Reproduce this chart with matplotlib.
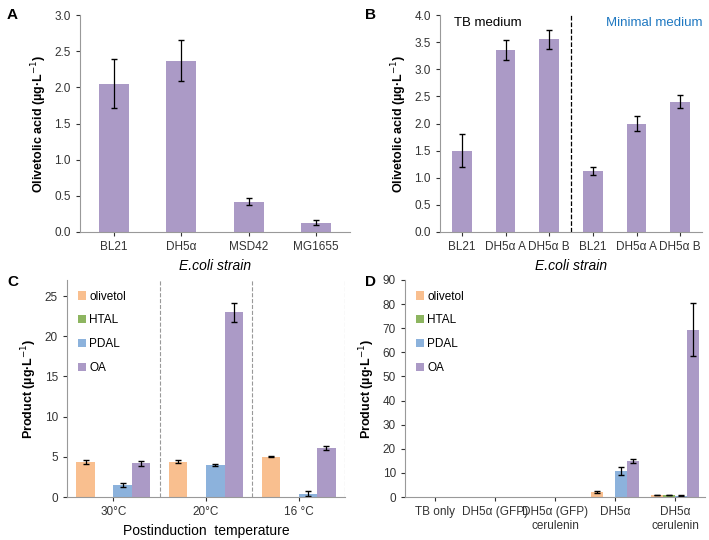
import numpy as np
import matplotlib.pyplot as plt

purple = '#ab9ac6'
orange = '#f9bf8f'
green = '#8db560'
blue = '#8cb2dc'
tblue = '#1f78c1'

a_labels = ["BL21", "DH5α", "MSD42", "MG1655"]
a_vals = [2.05, 2.37, 0.42, 0.13]
a_err = [0.34, 0.28, 0.05, 0.03]

b_labels = ["BL21", "DH5α A", "DH5α B", "BL21", "DH5α A", "DH5α B"]
b_vals = [1.5, 3.35, 3.55, 1.12, 2.0, 2.4]
b_err = [0.3, 0.18, 0.18, 0.07, 0.14, 0.12]

c_groups = ["30°C", "20°C", "16 °C"]
c_olivetol = [4.3, 4.4, 5.0]
c_olivetol_err = [0.25, 0.15, 0.05]
c_htal = [0.0, 0.0, 0.0]
c_pdal = [1.5, 4.0, 0.4]
c_pdal_err = [0.2, 0.15, 0.3]
c_oa = [4.2, 23.0, 6.1]
c_oa_err = [0.3, 1.2, 0.2]

d_groups = ["TB only", "DH5α (GFP)", "DH5α (GFP)\ncerulenin", "DH5α", "DH5α\ncerulenin"]
d_olivetol = [0.0, 0.0, 0.1, 2.1, 0.8]
d_olivetol_err = [np.nan, np.nan, np.nan, 0.3, 0.1]
d_htal = [0.0, 0.05, 0.1, 0.1, 0.8]
d_htal_err = [np.nan, np.nan, np.nan, np.nan, 0.1]
d_pdal = [0.0, 0.05, 0.1, 10.8, 0.6]
d_pdal_err = [np.nan, np.nan, np.nan, 1.5, 0.1]
d_oa = [0.0, 0.05, 0.1, 14.8, 69.3]
d_oa_err = [np.nan, np.nan, np.nan, 0.8, 11.0]

plt.rcParams['font.family'] = ['Liberation Sans', 'DejaVu Sans']
plt.rcParams['font.size'] = 9

fig = plt.figure(figsize=(7.09, 5.40), dpi=100)

def style(ax):
    for s in ['top', 'right']:
        ax.spines[s].set_visible(False)
    ax.spines['left'].set_color('#999999')
    ax.spines['bottom'].set_color('#999999')
    ax.tick_params(colors='#333333', length=3, labelsize=8.5)

ekw = dict(capsize=2.5, elinewidth=0.9, ecolor='k')

# A
ax = fig.add_axes([80/709, 1 - 232/540, 270/709, 217/540])
x = np.arange(len(a_vals))
ax.bar(x, a_vals, 0.45, yerr=a_err, color=purple, error_kw=ekw)
ax.set_xticks(x, a_labels)
ax.set_xlim(-0.5, 3.5)
ax.set_ylim(0, 3.0)
ax.set_yticks(np.arange(0, 3.01, 0.5))
ax.yaxis.set_major_formatter('{x:.1f}')
ax.set_ylabel("Olivetolic acid (µg·L$^{-1}$)", fontweight='bold')
ax.set_xlabel("E.coli strain", style='italic', fontsize=10)
style(ax)
fig.text(0.01, 0.985, "A", fontweight='bold', fontsize=11, va='top')

# B
ax = fig.add_axes([440/709, 1 - 232/540, 262/709, 217/540])
x = np.arange(len(b_vals))
ax.bar(x, b_vals, 0.45, yerr=b_err, color=purple, error_kw=ekw)
ax.set_xticks(x, b_labels)
for i, t in enumerate(ax.get_xticklabels()):
    t.set_fontsize(8)
    if i >= 3:
        t.set_color(tblue)
ax.set_xlim(-0.5, 5.5)
ax.set_ylim(0, 4.0)
ax.set_yticks(np.arange(0, 4.01, 0.5))
ax.yaxis.set_major_formatter('{x:.1f}')
ax.axvline(2.5, color='k', ls='--', lw=0.9)
ax.text(0.6, 3.85, "TB medium", ha='center', va='center', fontsize=9.5)
ax.text(4.4, 3.85, "Minimal medium", ha='center', va='center', fontsize=9.5, color=tblue)
ax.set_ylabel("Olivetolic acid (µg·L$^{-1}$)", fontweight='bold')
ax.set_xlabel("E.coli strain", style='italic', fontsize=10)
style(ax)
fig.text(0.515, 0.985, "B", fontweight='bold', fontsize=11, va='top')

# C
ax = fig.add_axes([67/709, 1 - 497/540, 278/709, 217/540])
x = np.arange(len(c_groups))
w = 0.2
ax.bar(x - 1.5*w, c_olivetol, w, yerr=c_olivetol_err, color=orange, label='olivetol', error_kw=ekw)
ax.bar(x - 0.5*w, c_htal, w, color=green, label='HTAL')
ax.bar(x + 0.5*w, c_pdal, w, yerr=c_pdal_err, color=blue, label='PDAL', error_kw=ekw)
ax.bar(x + 1.5*w, c_oa, w, yerr=c_oa_err, color=purple, label='OA', error_kw=ekw)
for b in [0.5, 1.5, 2.5]:
    ax.axvline(b, color='#999999', ls='--', lw=0.8)
ax.set_xticks(x, c_groups)
ax.set_xlim(-0.5, 2.5)
ax.set_ylim(0, 27)
ax.set_yticks(np.arange(0, 26, 5))
ax.set_ylabel("Product (µg·L$^{-1}$)", fontweight='bold')
ax.set_xlabel("Postinduction  temperature", fontsize=10)
ax.legend(loc='upper left', frameon=False, handlelength=0.7, handletextpad=0.3,
          labelspacing=1.0, fontsize=8.5)
style(ax)
fig.text(0.01, 0.49, "C", fontweight='bold', fontsize=11, va='top')

# D
ax = fig.add_axes([405/709, 1 - 497/540, 300/709, 217/540])
x = np.arange(len(d_groups))
w = 0.2
ax.bar(x - 1.5*w, d_olivetol, w, yerr=d_olivetol_err, color=orange, label='olivetol', error_kw=ekw)
ax.bar(x - 0.5*w, d_htal, w, yerr=d_htal_err, color=green, label='HTAL', error_kw=ekw)
ax.bar(x + 0.5*w, d_pdal, w, yerr=d_pdal_err, color=blue, label='PDAL', error_kw=ekw)
ax.bar(x + 1.5*w, d_oa, w, yerr=d_oa_err, color=purple, label='OA', error_kw=ekw)
ax.set_xticks(x, d_groups)
for t in ax.get_xticklabels():
    t.set_fontsize(7)
ax.set_xlim(-0.5, 4.5)
ax.set_ylim(0, 90)
ax.set_yticks(np.arange(0, 91, 10))
ax.set_ylabel("Product (µg·L$^{-1}$)", fontweight='bold')
ax.legend(loc='upper left', frameon=False, handlelength=0.7, handletextpad=0.3,
          labelspacing=1.0, fontsize=8.5)
style(ax)
fig.text(0.515, 0.49, "D", fontweight='bold', fontsize=11, va='top')

fig.savefig('out.png', dpi=100)
